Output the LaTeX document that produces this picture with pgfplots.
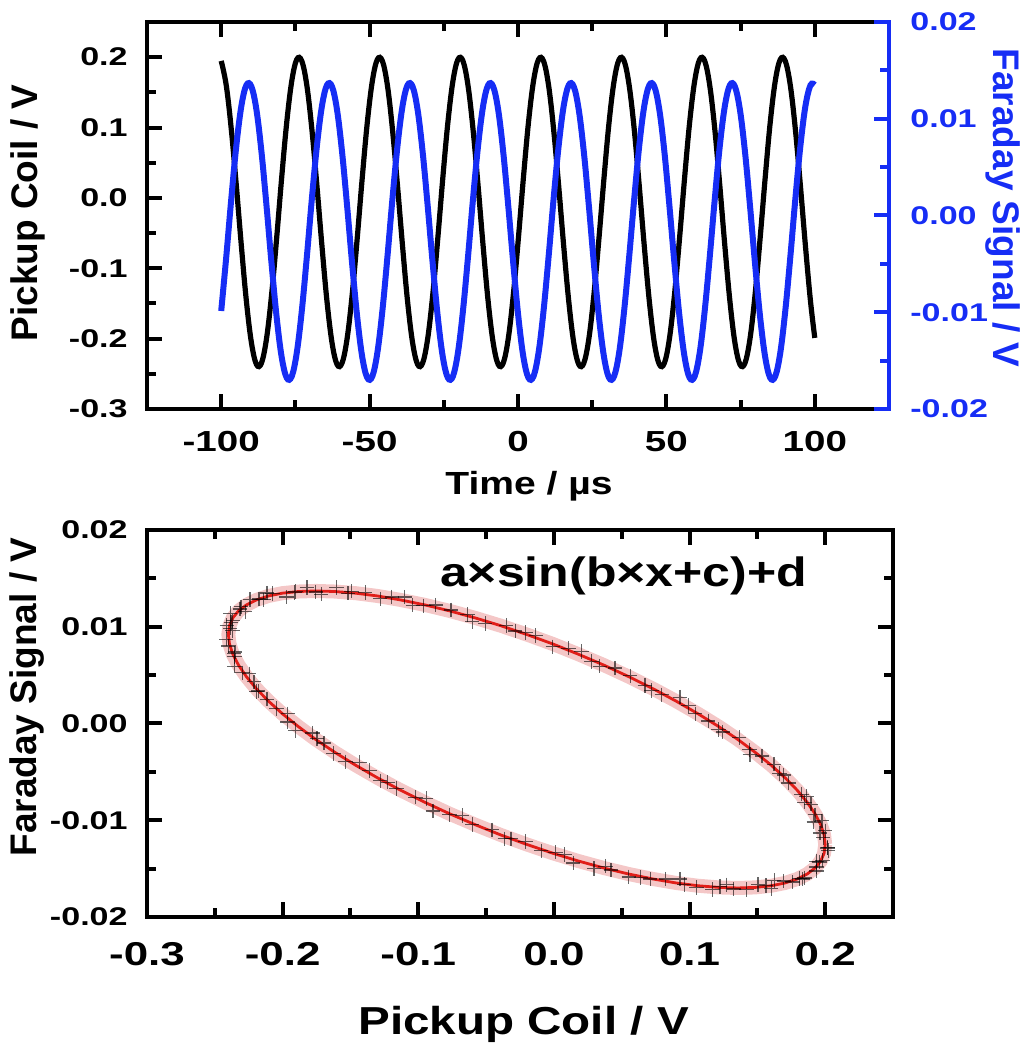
\documentclass[border=0pt]{standalone}
\usepackage{pgfplots}
\usepackage{pgfplotstable}
\pgfplotsset{compat=1.18}
\usepackage{fontspec}
\setmainfont{Liberation Sans}
\newfontfamily\fS[FakeStretch=1.33]{Liberation Sans}
\newfontfamily\fT[FakeStretch=1.22]{Liberation Sans}
\definecolor{blueC}{RGB}{22,45,245}
\definecolor{redC}{RGB}{225,30,25}
\definecolor{pinkC}{RGB}{240,180,180}

\pgfplotstableread{
t P F
-100.00 0.1947 -0.00987
-98.30 0.1600 -0.00429
-96.61 0.0979 0.00170
-94.91 0.0178 0.00718
-93.21 -0.0680 0.01131
-91.52 -0.1465 0.01347
-89.82 -0.2057 0.01333
-88.12 -0.2367 0.01091
-86.43 -0.2347 0.00657
-84.73 -0.2000 0.00099
-83.03 -0.1379 -0.00500
-81.33 -0.0578 -0.01048
-79.64 0.0280 -0.01461
-77.94 0.1065 -0.01677
-76.24 0.1657 -0.01663
-74.55 0.1967 -0.01421
-72.85 0.1947 -0.00987
-71.15 0.1600 -0.00429
-69.46 0.0979 0.00170
-67.76 0.0178 0.00718
-66.06 -0.0680 0.01131
-64.37 -0.1465 0.01347
-62.67 -0.2057 0.01333
-60.97 -0.2367 0.01091
-59.28 -0.2347 0.00657
-57.58 -0.2000 0.00099
-55.88 -0.1379 -0.00500
-54.18 -0.0578 -0.01048
-52.49 0.0280 -0.01461
-50.79 0.1065 -0.01677
-49.09 0.1657 -0.01663
-47.40 0.1967 -0.01421
-45.70 0.1947 -0.00987
-44.00 0.1600 -0.00429
-42.31 0.0979 0.00170
-40.61 0.0178 0.00718
-38.91 -0.0680 0.01131
-37.22 -0.1465 0.01347
-35.52 -0.2057 0.01333
-33.82 -0.2367 0.01091
-32.13 -0.2347 0.00657
-30.43 -0.2000 0.00099
-28.73 -0.1379 -0.00500
-27.03 -0.0578 -0.01048
-25.34 0.0280 -0.01461
-23.64 0.1065 -0.01677
-21.94 0.1657 -0.01663
-20.25 0.1967 -0.01421
-18.55 0.1947 -0.00987
-16.85 0.1600 -0.00429
-15.16 0.0979 0.00170
-13.46 0.0178 0.00718
-11.76 -0.0680 0.01131
-10.07 -0.1465 0.01347
-8.37 -0.2057 0.01333
-6.67 -0.2367 0.01091
-4.98 -0.2347 0.00657
-3.28 -0.2000 0.00099
-1.58 -0.1379 -0.00500
0.12 -0.0578 -0.01048
1.81 0.0280 -0.01461
3.51 0.1065 -0.01677
5.21 0.1657 -0.01663
6.91 0.1967 -0.01421
8.60 0.1947 -0.00987
10.30 0.1600 -0.00429
11.99 0.0979 0.00170
13.69 0.0178 0.00718
15.39 -0.0680 0.01131
17.09 -0.1465 0.01347
18.78 -0.2057 0.01333
20.48 -0.2367 0.01091
22.18 -0.2347 0.00657
23.88 -0.2000 0.00099
25.57 -0.1379 -0.00500
27.27 -0.0578 -0.01048
28.97 0.0280 -0.01461
30.66 0.1065 -0.01677
32.36 0.1657 -0.01663
34.06 0.1967 -0.01421
35.75 0.1947 -0.00987
37.45 0.1600 -0.00429
39.15 0.0979 0.00170
40.84 0.0178 0.00718
42.54 -0.0680 0.01131
44.24 -0.1465 0.01347
45.93 -0.2057 0.01333
47.63 -0.2367 0.01091
49.33 -0.2347 0.00657
51.02 -0.2000 0.00099
52.72 -0.1379 -0.00500
54.42 -0.0578 -0.01048
56.12 0.0280 -0.01461
57.81 0.1065 -0.01677
59.51 0.1657 -0.01663
61.21 0.1967 -0.01421
62.90 0.1947 -0.00987
64.60 0.1600 -0.00429
66.30 0.0979 0.00170
67.99 0.0178 0.00718
69.69 -0.0680 0.01131
71.39 -0.1465 0.01347
73.08 -0.2057 0.01333
74.78 -0.2367 0.01091
76.48 -0.2347 0.00657
78.17 -0.2000 0.00099
79.87 -0.1379 -0.00500
81.57 -0.0578 -0.01048
83.27 0.0280 -0.01461
84.96 0.1065 -0.01677
86.66 0.1657 -0.01663
88.36 0.1967 -0.01421
90.05 0.1947 -0.00987
91.75 0.1600 -0.00429
93.44 0.0979 0.00170
95.14 0.0178 0.00718
96.84 -0.0680 0.01131
98.54 -0.1465 0.01347
100.00 -0.1990 0.01349
}\topdata

\pgfplotstableread{
X Y
0.2000 -0.01250
0.1992 -0.01152
0.1967 -0.01045
0.1925 -0.00933
0.1867 -0.00814
0.1794 -0.00690
0.1705 -0.00562
0.1602 -0.00431
0.1485 -0.00299
0.1356 -0.00165
0.1214 -0.00031
0.1062 0.00101
0.0900 0.00232
0.0730 0.00360
0.0552 0.00484
0.0369 0.00603
0.0182 0.00715
-0.0008 0.00822
-0.0200 0.00920
-0.0392 0.01011
-0.0582 0.01092
-0.0769 0.01164
-0.0952 0.01226
-0.1130 0.01277
-0.1300 0.01318
-0.1462 0.01347
-0.1614 0.01364
-0.1756 0.01370
-0.1885 0.01364
-0.2002 0.01347
-0.2105 0.01318
-0.2194 0.01277
-0.2267 0.01226
-0.2325 0.01164
-0.2367 0.01092
-0.2392 0.01011
-0.2400 0.00920
-0.2392 0.00822
-0.2367 0.00715
-0.2325 0.00603
-0.2267 0.00484
-0.2194 0.00360
-0.2105 0.00232
-0.2002 0.00101
-0.1885 -0.00031
-0.1756 -0.00165
-0.1614 -0.00299
-0.1462 -0.00431
-0.1300 -0.00562
-0.1130 -0.00690
-0.0952 -0.00814
-0.0769 -0.00933
-0.0582 -0.01045
-0.0392 -0.01152
-0.0200 -0.01250
-0.0008 -0.01341
0.0182 -0.01422
0.0369 -0.01494
0.0552 -0.01556
0.0730 -0.01607
0.0900 -0.01648
0.1062 -0.01677
0.1214 -0.01694
0.1356 -0.01700
0.1485 -0.01694
0.1602 -0.01677
0.1705 -0.01648
0.1794 -0.01607
0.1867 -0.01556
0.1925 -0.01494
0.1967 -0.01422
0.1992 -0.01341
0.2000 -0.01250
}\fitdata

\pgfplotstableread{
X Y
0.2020 -0.01280
0.1962 -0.01132
0.1977 -0.01005
0.1925 -0.00943
0.1847 -0.00814
0.1824 -0.00730
0.1695 -0.00532
0.1622 -0.00421
0.1445 -0.00319
0.1366 -0.00145
0.1214 -0.00061
0.1042 0.00101
0.0930 0.00272
0.0720 0.00340
0.0562 0.00494
0.0339 0.00593
0.0202 0.00745
-0.0008 0.00792
-0.0210 0.00940
-0.0352 0.01011
-0.0602 0.01052
-0.0759 0.01174
-0.0962 0.01216
-0.1100 0.01307
-0.1280 0.01288
-0.1492 0.01367
-0.1604 0.01404
-0.1756 0.01360
-0.1905 0.01364
-0.1972 0.01307
-0.2115 0.01348
-0.2174 0.01287
-0.2307 0.01206
-0.2315 0.01184
-0.2367 0.01062
-0.2412 0.01011
-0.2370 0.00960
-0.2402 0.00802
-0.2357 0.00725
-0.2355 0.00593
-0.2247 0.00514
-0.2194 0.00330
-0.2115 0.00252
-0.1962 0.00101
-0.1905 -0.00071
-0.1746 -0.00155
-0.1624 -0.00309
-0.1432 -0.00401
-0.1280 -0.00592
-0.1160 -0.00670
-0.0942 -0.00774
-0.0769 -0.00943
-0.0602 -0.01045
-0.0362 -0.01192
-0.0210 -0.01220
0.0012 -0.01331
0.0142 -0.01442
0.0379 -0.01474
0.0552 -0.01586
0.0710 -0.01607
0.0930 -0.01608
0.1052 -0.01697
0.1224 -0.01684
0.1326 -0.01710
0.1505 -0.01664
0.1602 -0.01707
0.1695 -0.01628
0.1834 -0.01607
0.1847 -0.01596
0.1935 -0.01484
0.1957 -0.01432
0.2022 -0.01311
0.1986 -0.01181
0.2000 -0.01109
0.1916 -0.01019
0.1896 -0.00834
0.1861 -0.00752
0.1730 -0.00616
0.1664 -0.00517
0.1534 -0.00335
0.1441 -0.00272
0.1245 -0.00088
0.1138 0.00025
0.0991 0.00187
0.0795 0.00296
0.0671 0.00392
0.0451 0.00574
0.0276 0.00639
0.0107 0.00779
-0.0134 0.00911
-0.0286 0.00956
-0.0507 0.01032
-0.0636 0.01128
-0.0871 0.01225
-0.1041 0.01222
-0.1195 0.01308
-0.1391 0.01353
-0.1518 0.01346
-0.1715 0.01337
-0.1821 0.01407
-0.1914 0.01356
-0.2074 0.01343
-0.2140 0.01278
-0.2241 0.01282
-0.2276 0.01155
-0.2386 0.01138
-0.2380 0.01042
-0.2386 0.00986
-0.2416 0.00871
-0.2350 0.00739
-0.2356 0.00689
-0.2296 0.00524
-0.2211 0.00432
-0.2180 0.00336
-0.2044 0.00157
-0.1964 0.00015
-0.1781 -0.00098
-0.1695 -0.00202
-0.1538 -0.00395
-0.1361 -0.00487
-0.1225 -0.00606
-0.1021 -0.00762
-0.0891 -0.00904
-0.0676 -0.00949
-0.0457 -0.01099
-0.0316 -0.01191
-0.0094 -0.01316
0.0077 -0.01352
0.0296 -0.01498
0.0421 -0.01515
0.0641 -0.01592
0.0825 -0.01608
0.0961 -0.01663
0.1168 -0.01716
0.1275 -0.01667
0.1421 -0.01717
0.1564 -0.01676
0.1624 -0.01623
0.1760 -0.01638
0.1811 -0.01602
0.1936 -0.01525
0.1936 -0.01428
0.1980 -0.01412
0.2016 -0.01286
}\scatdata

\pgfplotsset{
  myaxis/.style={
    scale only axis,
    anchor=south west,
    tick align=inside,
    major tick length=7.5pt,
    minor tick length=4.5pt,
    scaled ticks=false,
    axis line style={line width=2.2pt, line cap=rect},
    tick style={line width=2pt},
    clip=false,
  }
}

\begin{document}
\begin{tikzpicture}
\useasboundingbox (0,0) rectangle (514.5pt,524.5pt);

% ---------- top panel, left axis ----------
\begin{axis}[myaxis,
  at={(73.5pt,320pt)}, width=371pt, height=193.5pt,
  xmin=-125, xmax=125, ymin=-0.3, ymax=0.25,
  axis y line*=left,
  tick style={black, line width=2pt},
  xtick={-100,-50,0,50,100}, xticklabels={-100,-50,0,50,100},
  minor xtick={-75,-25,25,75},
  ytick={-0.3,-0.2,-0.1,0,0.1,0.2}, yticklabels={-0.3,-0.2,-0.1,0.0,0.1,0.2},
  minor ytick={-0.25,-0.15,-0.05,0.05,0.15},
  xticklabel style={font=\fS\bfseries\fontsize{14.5pt}{16pt}\selectfont, anchor=north, inner sep=0pt, yshift=-10.75pt},
  yticklabel style={font=\fS\bfseries\fontsize{12.8pt}{14pt}\selectfont, anchor=east, inner sep=0pt, xshift=-9.5pt},
  xlabel={Time / µs},
  xlabel style={font=\fT\bfseries\fontsize{16pt}{18pt}\selectfont, at={(axis description cs:0.5148,-0.2222)}, anchor=base, inner sep=0pt},
  ylabel={Pickup Coil / V},
  ylabel style={font=\bfseries\fontsize{18.5pt}{20pt}\selectfont, at={(axis description cs:-0.1604,0.5065)}, anchor=center, inner sep=0pt},
]
\addplot[black, line width=2.6pt, smooth, tension=0.6] table[x=t, y=P] {\topdata};
\end{axis}

% ---------- top panel, right axis ----------
\begin{axis}[myaxis,
  at={(73.5pt,320pt)}, width=371pt, height=193.5pt,
  xmin=-125, xmax=125, ymin=-0.02, ymax=0.02,
  axis x line=none,
  axis y line*=right,
  y axis line style={blueC, line width=2.2pt},
  tick style={blueC, line width=2pt},
  ytick={-0.02,-0.01,0,0.01,0.02}, yticklabels={-0.02,-0.01,0.00,0.01,0.02},
  minor ytick={-0.015,-0.005,0.005,0.015},
  yticklabel style={blueC, font=\fS\bfseries\fontsize{12.8pt}{14pt}\selectfont, anchor=west, inner sep=0pt, xshift=10.5pt},
  ylabel={Faraday Signal / V},
  ylabel style={blueC, font=\bfseries\fontsize{18.5pt}{20pt}\selectfont, at={(axis description cs:1.1536,0.519)}, anchor=center, rotate=180, inner sep=0pt},
]
\addplot[blueC, line width=3pt, smooth, tension=0.6] table[x=t, y=F] {\topdata};
\end{axis}

% ---------- bottom panel ----------
\begin{axis}[myaxis,
  at={(73.5pt,66pt)}, width=373pt, height=193.5pt,
  xmin=-0.3, xmax=0.25, ymin=-0.02, ymax=0.02,
  tick style={black, line width=2pt},
  xtick={-0.3,-0.2,-0.1,0,0.1,0.2}, xticklabels={-0.3,-0.2,-0.1,0.0,0.1,0.2},
  minor xtick={-0.25,-0.15,-0.05,0.05,0.15},
  ytick={-0.02,-0.01,0,0.01,0.02}, yticklabels={-0.02,-0.01,0.00,0.01,0.02},
  minor ytick={-0.015,-0.005,0.005,0.015},
  xticklabel style={font=\fS\bfseries\fontsize{16.5pt}{18pt}\selectfont, anchor=north, inner sep=0pt, yshift=-12.5pt},
  yticklabel style={font=\fS\bfseries\fontsize{12.8pt}{14pt}\selectfont, anchor=east, inner sep=0pt, xshift=-9.5pt},
  xlabel={Pickup Coil / V},
  xlabel style={font=\fT\bfseries\fontsize{19.5pt}{22pt}\selectfont, at={(axis description cs:0.5047,-0.3049)}, anchor=base, inner sep=0pt},
  ylabel={Faraday Signal / V},
  ylabel style={font=\bfseries\fontsize{18.5pt}{20pt}\selectfont, at={(axis description cs:-0.1602,0.5685)}, anchor=center, inner sep=0pt},
]
\addplot[pinkC, line width=7pt, opacity=0.75] table[x=X, y=Y] {\fitdata};
\addplot[only marks, mark=+, mark size=3.6pt, black, opacity=0.6, mark options={line width=0.6pt}] table[x=X, y=Y] {\scatdata};
\addplot[redC, line width=1.4pt] table[x=X, y=Y] {\fitdata};
\node[anchor=base, inner sep=0pt, font=\fT\bfseries\fontsize{20.5pt}{24pt}\selectfont] at (axis description cs:0.6388,0.8527) {a×sin(b×x+c)+d};
\end{axis}
\end{tikzpicture}
\end{document}
